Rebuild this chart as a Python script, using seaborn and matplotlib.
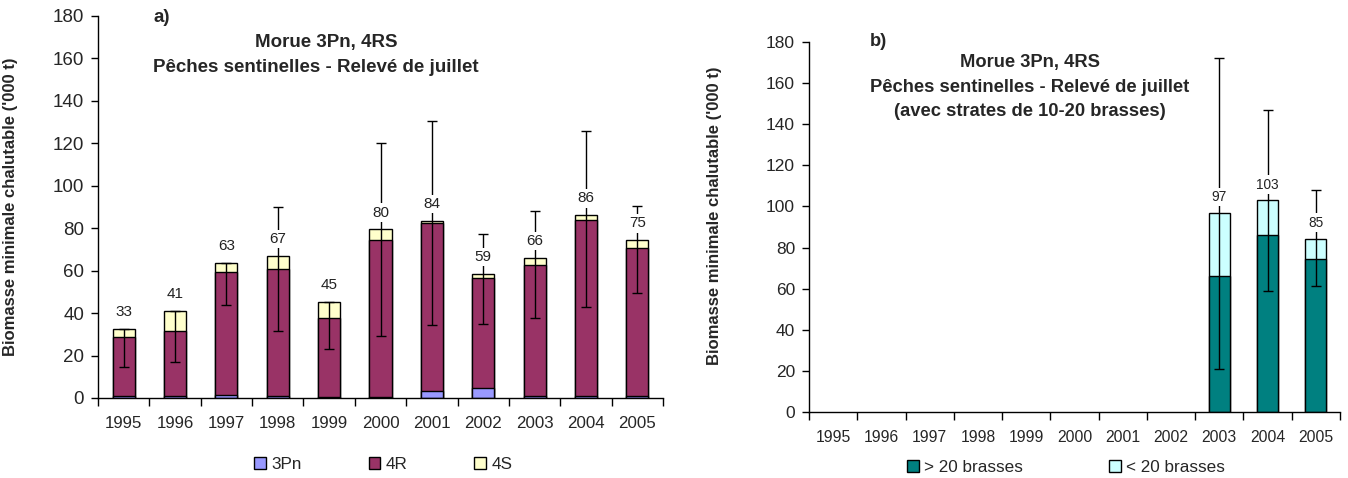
import numpy as np
import pandas as pd
import matplotlib
matplotlib.use("Agg")
import matplotlib.pyplot as plt
import seaborn as sns
from matplotlib.patches import Patch

# ---- data ----
years = [str(y) for y in range(1995, 2006)]

# panel a) stacked by area
pn3 = [0.8, 0.8, 1.6, 0.8, 0.3, 0.3, 3.1, 4.7, 0.8, 0.8, 0.8]
r4  = [27.9, 30.6, 58.0, 59.9, 37.3, 74.2, 79.5, 51.7, 61.8, 83.1, 69.8]
s4  = [3.9, 9.8, 4.2, 6.4, 7.6, 5.0, 1.0, 2.1, 3.6, 2.3, 3.9]
labels_a = [33, 41, 63, 67, 45, 80, 84, 59, 66, 86, 75]
ci_low_a  = [14.4, 16.8, 43.9, 31.4, 23.0, 29.3, 34.5, 34.8, 37.6, 42.8, 49.4]
ci_high_a = [32.6, 41.2, 63.8, 90.2, 45.2, 120.3, 130.4, 77.1, 88.0, 125.9, 90.6]

# panel b) stacked by depth, only 2003-2005
deep    = [np.nan] * 8 + [66.1, 86.2, 74.5]
shallow = [np.nan] * 8 + [30.8, 16.7, 9.9]
labels_b  = [None] * 8 + [97, 103, 85]
ci_low_b  = [np.nan] * 8 + [20.7, 59.1, 61.2]
ci_high_b = [np.nan] * 8 + [172.2, 147.1, 107.9]

C_3PN, C_4R, C_4S = "#9999FF", "#993366", "#FFFFCC"
C_DEEP, C_SHAL = "#008080", "#CCFFFF"

sns.set_style("ticks")
plt.rcParams["font.family"] = ["Liberation Sans", "DejaVu Sans"]

W, H = 1348, 478
fig = plt.figure(figsize=(W / 100, H / 100), dpi=100)


def px_axes(x0, x1, y_top, y_bot):
    return fig.add_axes([x0 / W, 1 - y_bot / H, (x1 - x0) / W, (y_bot - y_top) / H])


def style_axes(ax, xtick_fs, ytick_fs):
    ax.set_ylim(0, 180)
    ax.set_xlim(-0.5, len(years) - 0.5)
    ax.set_yticks(range(0, 181, 20))
    sns.despine(ax=ax)
    for s in ("left", "bottom"):
        ax.spines[s].set_color("black")
        ax.spines[s].set_linewidth(1.0)
    ax.tick_params(axis="y", direction="out", length=5, width=1, color="black",
                   labelsize=ytick_fs, pad=5)
    ax.set_xticks(range(len(years)))
    ax.set_xticklabels(years)
    ax.set_xticks(np.arange(-0.5, len(years)), minor=True)
    ax.tick_params(axis="x", which="major", length=0, labelsize=xtick_fs, pad=13)
    ax.tick_params(axis="x", which="minor", direction="out", length=6, width=1,
                   color="black")
    ax.set_xlabel("")
    ax.set_ylabel("Biomasse minimale chalutable ('000 t)", fontsize=12,
                  fontweight="bold")


def stacked(ax, segs, colors):
    # draw cumulative totals from tallest to smallest (classic overplot stacking)
    arr = np.array(segs, dtype=float)
    cum = np.nancumsum(arr, axis=0)
    cum[np.isnan(arr)] = np.nan
    for k in range(len(segs) - 1, -1, -1):
        df = pd.DataFrame({"year": years, "v": cum[k]})
        sns.barplot(data=df, x="year", y="v", order=years, color=colors[k],
                    saturation=1, width=0.43, edgecolor="black", linewidth=1,
                    ax=ax, zorder=2)
    return cum[-1]


def errs_and_labels(ax, tops, lows, highs, labels, fs, off):
    x = np.arange(len(years))
    tops = np.asarray(tops, float)
    lo = np.clip(tops - np.asarray(lows, float), 0, None)
    hi = np.clip(np.asarray(highs, float) - tops, 0, None)
    ok = ~np.isnan(tops)
    ax.errorbar(x[ok], tops[ok], yerr=[lo[ok], hi[ok]], fmt="none",
                ecolor="black", elinewidth=1, capsize=3.5, capthick=1, zorder=4)
    for xi, t, lab in zip(x, tops, labels):
        if lab is None:
            continue
        ax.annotate(str(lab), (xi, t), xytext=(0, off), textcoords="offset points",
                    ha="center", va="center", fontsize=fs, color="#222222", zorder=5,
                    bbox=dict(boxstyle="square,pad=0.15", fc="white", ec="none"))


# ---- panel a) ----
ax1 = px_axes(98, 663, 16, 398)
tot_a = stacked(ax1, [pn3, r4, s4], [C_3PN, C_4R, C_4S])
style_axes(ax1, 12.2, 13.5)
ax1.yaxis.set_label_coords(-0.142, 0.5)
errs_and_labels(ax1, tot_a, ci_low_a, ci_high_a, labels_a, 11, 12)
ax1.legend(handles=[Patch(fc=c, ec="black", lw=1) for c in (C_3PN, C_4R, C_4S)],
           labels=["3Pn", "4R", "4S"], ncol=3, frameon=False, fontsize=12.3,
           loc="center", bbox_to_anchor=(0.505, -0.175), handlelength=0.7,
           handleheight=0.7, handletextpad=0.3, columnspacing=3.9)

fig.text(153 / W, 1 - 18 / H, "a)", fontsize=13.5, fontweight="bold", va="center")
fig.text(326 / W, 1 - 43 / H, "Morue 3Pn, 4RS", fontsize=13.5, fontweight="bold",
         ha="center", va="center")
fig.text(153 / W, 1 - 68 / H, "Pêches sentinelles - Relevé de juillet", fontsize=13.5,
         fontweight="bold", ha="left", va="center")

# ---- panel b) ----
ax2 = px_axes(809, 1340, 42, 412)
tot_b = stacked(ax2, [deep, shallow], [C_DEEP, C_SHAL])
style_axes(ax2, 11.3, 12.5)
ax2.yaxis.set_label_coords(-0.164, 0.53)
errs_and_labels(ax2, tot_b, ci_low_b, ci_high_b, labels_b, 9.8, 11.5)
ax2.legend(handles=[Patch(fc=c, ec="black", lw=1) for c in (C_DEEP, C_SHAL)],
           labels=["> 20 brasses", "< 20 brasses"], ncol=2, frameon=False,
           fontsize=12.3, loc="center", bbox_to_anchor=(0.484, -0.15),
           handlelength=0.7, handleheight=0.7, handletextpad=0.3, columnspacing=5.0)

fig.text(870 / W, 1 - 42 / H, "b)", fontsize=13.2, fontweight="bold", va="center")
for txt, yy in [("Morue 3Pn, 4RS", 63), ("Pêches sentinelles - Relevé de juillet", 88),
                ("(avec strates de 10-20 brasses)", 112)]:
    fig.text(1030 / W, 1 - yy / H, txt, fontsize=13.2, fontweight="bold",
             ha="center", va="center")

fig.savefig("out.png", dpi=100)
